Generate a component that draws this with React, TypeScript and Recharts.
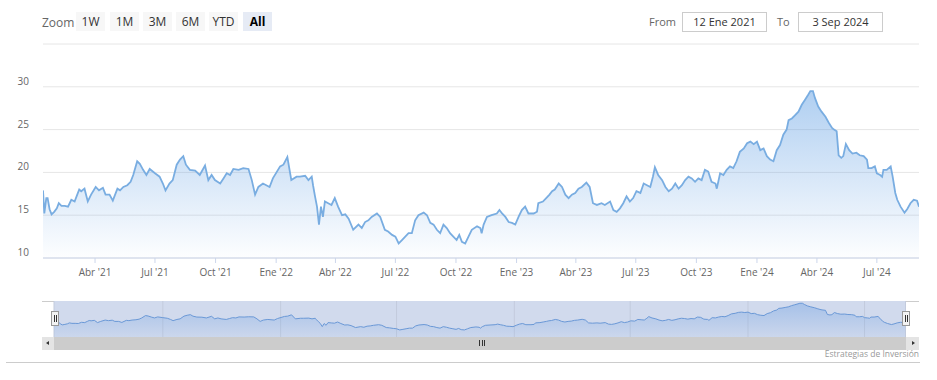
// @ts-nocheck
import { AreaChart, Area, XAxis, YAxis, CartesianGrid } from "recharts";

const MESES = ["Ene", "Feb", "Mar", "Abr", "May", "Jun", "Jul", "Ago", "Sep", "Oct", "Nov", "Dic"];
const BOTONES = ["1W", "1M", "3M", "6M", "YTD", "All"];
const DESDE = "12 Ene 2021";
const HASTA = "3 Sep 2024";
const CREDITO = "Estrategias de Inversión";

const Y_TICKS = [10, 15, 20, 25, 30, 35];
const X_TICKS = [
  "2021-04-01", "2021-07-01", "2021-10-01", "2022-01-01", "2022-04-01", "2022-07-01", "2022-10-01",
  "2023-01-01", "2023-04-01", "2023-07-01", "2023-10-01", "2024-01-01", "2024-04-01", "2024-07-01",
];
const NAV_TICKS = ["2021-07-01", "2022-01-01", "2022-07-01", "2023-01-01", "2023-07-01", "2024-01-01", "2024-07-01"];

const p2021 = [
  ["2021-01-12", 17.9], ["2021-01-14", 15.2], ["2021-01-17", 17.0], ["2021-01-19", 17.0], ["2021-01-22", 15.7],
  ["2021-01-25", 15.1], ["2021-01-29", 15.4], ["2021-02-02", 15.8], ["2021-02-05", 16.4], ["2021-02-09", 16.1],
  ["2021-02-14", 16.1], ["2021-02-19", 16.0], ["2021-02-24", 16.8], ["2021-03-01", 16.6], ["2021-03-05", 17.4],
  ["2021-03-08", 18.0], ["2021-03-11", 17.8], ["2021-03-16", 18.1], ["2021-03-21", 16.6], ["2021-03-26", 17.4],
  ["2021-04-02", 18.3], ["2021-04-07", 17.9], ["2021-04-13", 18.2], ["2021-04-17", 17.4], ["2021-04-23", 17.4],
  ["2021-04-28", 16.7], ["2021-05-05", 18.1], ["2021-05-09", 17.9], ["2021-05-14", 18.3], ["2021-05-20", 18.5],
  ["2021-05-25", 18.9], ["2021-05-29", 19.7], ["2021-06-04", 21.3], ["2021-06-08", 21.0], ["2021-06-13", 20.3],
  ["2021-06-18", 19.7], ["2021-06-23", 20.4], ["2021-07-01", 19.9], ["2021-07-08", 19.5], ["2021-07-13", 18.7],
  ["2021-07-17", 17.9], ["2021-07-23", 18.7], ["2021-07-28", 19.1], ["2021-08-03", 20.9], ["2021-08-08", 21.5],
  ["2021-08-13", 21.9], ["2021-08-17", 20.9], ["2021-08-23", 20.3], ["2021-08-31", 20.2], ["2021-09-07", 19.7],
  ["2021-09-15", 20.8], ["2021-09-20", 19.1], ["2021-09-25", 19.7], ["2021-09-30", 19.1], ["2021-10-08", 18.7],
  ["2021-10-13", 19.3], ["2021-10-18", 19.9], ["2021-10-23", 19.7], ["2021-10-28", 20.4], ["2021-11-05", 20.3],
  ["2021-11-12", 20.5], ["2021-11-20", 20.4], ["2021-11-25", 19.1], ["2021-11-30", 17.4], ["2021-12-05", 18.3],
  ["2021-12-12", 18.7], ["2021-12-22", 18.3], ["2021-12-27", 19.3],
];

const p2022 = [
  ["2022-01-07", 20.7], ["2022-01-12", 20.9], ["2022-01-18", 21.8], ["2022-01-24", 19.1], ["2022-02-01", 19.5],
  ["2022-02-06", 19.5], ["2022-02-14", 19.6], ["2022-02-19", 19.1], ["2022-02-24", 19.5], ["2022-02-26", 18.5],
  ["2022-03-01", 17.2], ["2022-03-04", 16.0], ["2022-03-07", 13.9], ["2022-03-10", 16.0], ["2022-03-13", 14.8],
  ["2022-03-16", 16.6], ["2022-03-21", 16.4], ["2022-03-26", 16.2], ["2022-03-31", 17.0], ["2022-04-05", 16.0],
  ["2022-04-11", 15.0], ["2022-04-16", 15.1], ["2022-04-21", 14.6], ["2022-04-28", 13.3], ["2022-05-06", 13.9],
  ["2022-05-11", 13.5], ["2022-05-16", 14.2], ["2022-05-21", 14.4], ["2022-05-26", 14.8], ["2022-06-03", 15.2],
  ["2022-06-08", 14.8], ["2022-06-15", 13.3], ["2022-06-20", 13.1], ["2022-06-26", 12.7], ["2022-07-01", 12.5],
  ["2022-07-06", 11.7], ["2022-07-11", 12.1], ["2022-07-16", 12.5], ["2022-07-21", 12.9], ["2022-07-26", 12.9],
  ["2022-07-31", 14.4], ["2022-08-05", 15.0], ["2022-08-13", 15.3], ["2022-08-18", 15.0], ["2022-08-23", 14.1],
  ["2022-08-28", 13.9], ["2022-09-02", 13.3], ["2022-09-07", 12.9], ["2022-09-12", 13.9], ["2022-09-17", 13.5],
  ["2022-09-22", 12.9], ["2022-09-27", 12.5], ["2022-10-02", 12.1], ["2022-10-06", 12.7], ["2022-10-10", 11.9],
  ["2022-10-15", 11.7], ["2022-10-20", 12.5], ["2022-10-25", 13.3], ["2022-11-02", 13.7], ["2022-11-07", 13.5],
  ["2022-11-09", 12.9], ["2022-11-12", 13.9], ["2022-11-17", 14.8], ["2022-11-24", 15.0], ["2022-12-02", 15.2],
  ["2022-12-06", 15.6], ["2022-12-10", 15.2], ["2022-12-15", 14.8], ["2022-12-20", 14.2], ["2022-12-25", 14.1],
  ["2022-12-30", 13.9],
];

const p2023 = [
  ["2023-01-04", 14.8], ["2023-01-09", 15.6], ["2023-01-14", 16.0], ["2023-01-19", 15.2], ["2023-01-27", 15.2],
  ["2023-02-01", 15.4], ["2023-02-03", 16.4], ["2023-02-10", 16.6], ["2023-02-15", 17.0], ["2023-02-20", 17.4],
  ["2023-02-24", 17.8], ["2023-02-28", 18.0], ["2023-03-06", 18.7], ["2023-03-11", 18.3], ["2023-03-16", 17.4],
  ["2023-03-21", 17.0], ["2023-03-26", 17.4], ["2023-03-31", 17.6], ["2023-04-05", 18.1], ["2023-04-10", 18.3],
  ["2023-04-17", 18.8], ["2023-04-22", 18.3], ["2023-04-27", 16.4], ["2023-05-03", 16.2], ["2023-05-10", 16.4],
  ["2023-05-15", 16.2], ["2023-05-23", 16.6], ["2023-05-28", 15.6], ["2023-06-02", 15.4], ["2023-06-07", 15.8],
  ["2023-06-12", 16.4], ["2023-06-17", 17.2], ["2023-06-22", 16.6], ["2023-06-27", 17.0], ["2023-07-02", 17.8],
  ["2023-07-08", 17.6], ["2023-07-13", 18.7], ["2023-07-18", 18.5], ["2023-07-23", 18.3], ["2023-07-27", 19.5],
  ["2023-07-30", 20.6], ["2023-08-04", 19.7], ["2023-08-10", 19.1], ["2023-08-15", 18.3], ["2023-08-20", 17.8],
  ["2023-08-25", 18.1], ["2023-08-30", 18.7], ["2023-09-04", 18.1], ["2023-09-09", 18.5], ["2023-09-14", 19.1],
  ["2023-09-19", 19.5], ["2023-09-24", 19.3], ["2023-09-29", 18.9], ["2023-10-04", 19.3], ["2023-10-09", 19.1],
  ["2023-10-14", 20.3], ["2023-10-19", 20.1], ["2023-10-24", 18.9], ["2023-10-30", 18.7], ["2023-11-01", 18.1],
  ["2023-11-06", 19.9], ["2023-11-11", 19.7], ["2023-11-16", 20.3], ["2023-11-21", 20.7], ["2023-11-26", 20.5],
  ["2023-12-01", 21.3], ["2023-12-06", 22.4], ["2023-12-12", 22.8], ["2023-12-17", 23.4], ["2023-12-22", 23.6],
  ["2023-12-27", 23.3],
];

const p2024 = [
  ["2024-01-01", 23.6], ["2024-01-06", 22.6], ["2024-01-11", 22.8], ["2024-01-16", 21.9], ["2024-01-21", 21.5],
  ["2024-01-26", 21.3], ["2024-01-31", 22.6], ["2024-02-05", 23.2], ["2024-02-10", 24.4], ["2024-02-15", 25.0],
  ["2024-02-18", 26.1], ["2024-02-23", 26.3], ["2024-02-28", 26.7], ["2024-03-04", 27.1], ["2024-03-09", 27.9],
  ["2024-03-14", 28.5], ["2024-03-19", 29.1], ["2024-03-22", 29.5], ["2024-03-26", 29.5], ["2024-03-29", 28.7],
  ["2024-04-03", 27.7], ["2024-04-08", 27.1], ["2024-04-14", 26.5], ["2024-04-19", 25.8], ["2024-04-24", 25.2],
  ["2024-04-27", 25.0], ["2024-05-01", 24.8], ["2024-05-04", 22.0], ["2024-05-08", 21.7], ["2024-05-11", 21.9],
  ["2024-05-15", 23.3], ["2024-05-20", 22.6], ["2024-05-25", 22.2], ["2024-05-31", 22.3], ["2024-06-05", 22.0],
  ["2024-06-11", 21.9], ["2024-06-16", 21.5], ["2024-06-18", 20.5], ["2024-06-23", 20.5], ["2024-06-28", 20.7],
  ["2024-07-01", 19.9], ["2024-07-06", 19.7], ["2024-07-09", 19.5], ["2024-07-11", 20.3], ["2024-07-16", 20.3],
  ["2024-07-22", 20.7], ["2024-07-25", 19.5], ["2024-07-29", 17.6], ["2024-08-01", 16.8], ["2024-08-06", 16.0],
  ["2024-08-12", 15.3], ["2024-08-16", 15.7], ["2024-08-21", 16.4], ["2024-08-26", 16.8], ["2024-08-31", 16.7],
  ["2024-09-03", 16.0],
];

const ts = (d) => Date.parse(d + "T00:00:00Z");
const data = [...p2021, ...p2022, ...p2023, ...p2024].map(([d, v]) => ({ t: ts(d), v }));
const inicio = data[0].t;
const fin = data[data.length - 1].t;

const fmtFecha = (t) => {
  const d = new Date(t);
  return `${MESES[d.getUTCMonth()]} '${String(d.getUTCFullYear()).slice(2)}`;
};

const FONT = "'Open Sans', Arial, sans-serif";

const YTick = ({ y, payload }) => {
  if (payload.value === 35) return <g />;
  return (
    <text x={29} y={y - 2} textAnchor="end" fill="#666" fontSize={10} fontFamily={FONT}>
      {payload.value}
    </text>
  );
};

const NavTick = ({ x, y, payload }) => (
  <text x={x + 2} y={y - 4} textAnchor="start" fill="#777" fontSize={10} fontFamily={FONT}>
    {fmtFecha(payload.value)}
  </text>
);

const abs = (s) => ({ position: "absolute", ...s });

const Handle = ({ left }) => (
  <div style={abs({ left, top: 311, width: 6, height: 13, background: "#f2f2f2", border: "1px solid #999" })}>
    <div style={abs({ left: 2, top: 3, width: 0, height: 7, borderLeft: "1px solid #333" })} />
    <div style={abs({ left: 4, top: 3, width: 0, height: 7, borderLeft: "1px solid #333" })} />
  </div>
);

export default function App() {
  const lefts = [76, 110, 143, 176, 209, 243];
  return (
    <div style={abs({ left: 0, top: 0, width: 937, height: 380, background: "#fff", fontFamily: FONT, overflow: "hidden" })}>
      {/* barra superior */}
      <div style={abs({ left: 42, top: 14, fontSize: 12, color: "#666" })}>Zoom</div>
      {BOTONES.map((b, i) => (
        <div
          key={b}
          style={abs({
            left: lefts[i],
            top: 12,
            width: 29,
            height: 19,
            lineHeight: "19px",
            textAlign: "center",
            fontSize: 12,
            background: b === "All" ? "#e6ebf5" : "#f7f7f7",
            color: b === "All" ? "#000" : "#333",
            fontWeight: b === "All" ? 700 : 400,
          })}
        >
          {b}
        </div>
      ))}
      <div style={abs({ left: 649, top: 14, fontSize: 11, color: "#666" })}>From</div>
      <div style={abs({ left: 682, top: 12, width: 83, height: 18, border: "1px solid #ccc", textAlign: "center", lineHeight: "18px", fontSize: 11, color: "#333" })}>
        {DESDE}
      </div>
      <div style={abs({ left: 777, top: 14, fontSize: 11, color: "#666" })}>To</div>
      <div style={abs({ left: 798, top: 12, width: 83, height: 18, border: "1px solid #ccc", textAlign: "center", lineHeight: "18px", fontSize: 11, color: "#333" })}>
        {HASTA}
      </div>

      {/* grafico principal */}
      <div style={abs({ left: 0, top: 0 })}>
        <AreaChart width={937} height={290} data={data} margin={{ top: 44, right: 18, bottom: 0, left: 0 }}>
          <defs>
            <linearGradient id="relleno" x1="0" y1="0" x2="0" y2="1">
              <stop offset="0%" stopColor="#5a9be2" stopOpacity={0.8} />
              <stop offset="100%" stopColor="#5a9be2" stopOpacity={0.02} />
            </linearGradient>
          </defs>
          <CartesianGrid vertical={false} stroke="#e6e6e6" />
          <XAxis
            dataKey="t"
            type="number"
            domain={[inicio, fin]}
            ticks={X_TICKS.map(ts)}
            tickFormatter={fmtFecha}
            stroke="#ccd6eb"
            tickSize={5}
            tickMargin={6}
            height={32}
            tick={{ fill: "#666", fontSize: 10, fontFamily: FONT }}
            allowDataOverflow
          />
          <YAxis domain={[10, 35]} ticks={Y_TICKS} width={43} axisLine={false} tickLine={false} tick={<YTick />} />
          <Area
            type="linear"
            dataKey="v"
            stroke="#79ade1"
            strokeWidth={1.8}
            fill="url(#relleno)"
            dot={false}
            activeDot={false}
            isAnimationActive={false}
          />
        </AreaChart>
      </div>

      {/* navegador */}
      <div style={abs({ left: 42, top: 301, width: 877, height: 0, borderTop: "1px solid #ccc" })} />
      <div style={abs({ left: 54, top: 301, width: 851, height: 36, background: "#d1daed" })} />
      <div style={abs({ left: 0, top: 301 })}>
        <AreaChart width={937} height={36} data={data} margin={{ top: 0, right: 31.5, bottom: 0, left: 54 }}>
          <defs>
            <linearGradient id="rellenoNav" x1="0" y1="0" x2="0" y2="1">
              <stop offset="0%" stopColor="#5a95e0" stopOpacity={0.6} />
              <stop offset="100%" stopColor="#5a95e0" stopOpacity={0.08} />
            </linearGradient>
          </defs>
          <CartesianGrid horizontal={false} stroke="#c3cbdd" />
          <XAxis
            dataKey="t"
            type="number"
            domain={[inicio, fin]}
            ticks={NAV_TICKS.map(ts)}
            height={0}
            axisLine={false}
            tickLine={false}
            tick={<NavTick />}
            allowDataOverflow
          />
          <YAxis hide domain={[7, 31]} />
          <Area
            type="linear"
            dataKey="v"
            stroke="#6a98d6"
            strokeWidth={1}
            fill="url(#rellenoNav)"
            dot={false}
            activeDot={false}
            isAnimationActive={false}
          />
        </AreaChart>
      </div>
      <Handle left={51} />
      <Handle left={902} />

      {/* barra de desplazamiento */}
      <div style={abs({ left: 42, top: 337, width: 877, height: 13, background: "#cccccc" })} />
      <div style={abs({ left: 42, top: 337, width: 12, height: 13, background: "#e4e4e4" })}>
        <div style={abs({ left: 4, top: 4, width: 0, height: 0, borderTop: "2.5px solid transparent", borderBottom: "2.5px solid transparent", borderRight: "3px solid #333" })} />
      </div>
      <div style={abs({ left: 906, top: 337, width: 13, height: 13, background: "#e4e4e4" })}>
        <div style={abs({ left: 6, top: 4, width: 0, height: 0, borderTop: "2.5px solid transparent", borderBottom: "2.5px solid transparent", borderLeft: "3px solid #333" })} />
      </div>
      {[479, 481.5, 484].map((l) => (
        <div key={l} style={abs({ left: l, top: 340, width: 0, height: 6, borderLeft: "1px solid #333" })} />
      ))}

      <div style={abs({ left: 6, top: 362, width: 914, height: 0, borderTop: "1px solid #ccc" })} />
      <div style={abs({ right: 18, top: 348, fontSize: 8.5, color: "#999", whiteSpace: "nowrap" })}>{CREDITO}</div>
    </div>
  );
}
